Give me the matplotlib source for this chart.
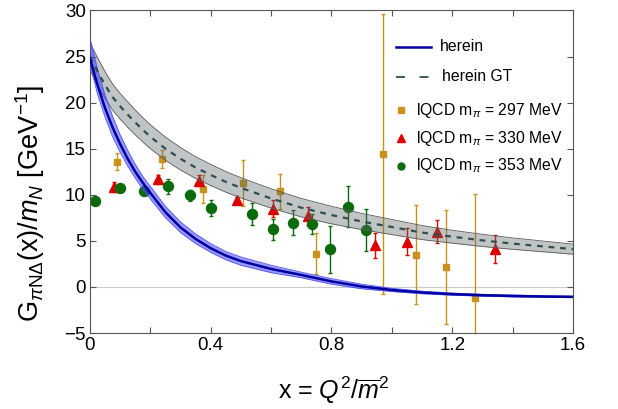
import numpy as np
import matplotlib
matplotlib.use("Agg")
import matplotlib.pyplot as plt

plt.rcParams['font.family'] = ['Liberation Sans', 'DejaVu Sans']
plt.rcParams['mathtext.fontset'] = 'custom'
plt.rcParams['mathtext.rm'] = 'Liberation Sans'
plt.rcParams['mathtext.it'] = 'Liberation Sans:italic'
plt.rcParams['mathtext.bf'] = 'Liberation Sans:bold'

# model curves, sampled on a common x grid
x_grid = [0, 0.025, 0.05, 0.075, 0.1, 0.125, 0.15, 0.175, 0.2, 0.25, 0.3, 0.35, 0.4,
          0.45, 0.5, 0.6, 0.7, 0.8, 0.9, 1.0, 1.1, 1.2, 1.3, 1.4, 1.5, 1.6]
herein = [24.8, 21.9, 19.4, 17.3, 15.5, 13.9, 12.5, 11.3, 10.2, 8.1, 6.45, 5.2, 4.2,
          3.4, 2.8, 1.95, 1.3, 0.6, 0.05, -0.33, -0.6, -0.78, -0.9, -0.98, -1.04, -1.08]
herein_hi = [27.0, 23.6, 20.8, 18.5, 16.5, 14.8, 13.3, 12.0, 10.9, 8.75, 7.05, 5.75, 4.7,
             3.85, 3.25, 2.35, 1.6, 0.9, 0.3, -0.15, -0.46, -0.66, -0.8, -0.88, -0.95, -1.0]
herein_lo = [24.2, 20.9, 18.4, 16.3, 14.6, 13.1, 11.8, 10.6, 9.55, 7.5, 5.9, 4.7, 3.75,
             2.95, 2.35, 1.55, 1.0, 0.3, -0.2, -0.5, -0.74, -0.9, -1.0, -1.08, -1.13, -1.16]
herein_gt = [25.0, 23.4, 21.9, 20.6, 19.6, 18.7, 17.85, 17.05, 16.3, 15.0, 13.9, 12.95, 12.15,
             11.4, 10.75, 9.6, 8.6, 7.8, 7.1, 6.5, 5.9, 5.45, 5.05, 4.7, 4.4, 4.1]
herein_gt_err = [1.5, 1.48, 1.45, 1.42, 1.4, 1.38, 1.35, 1.32, 1.3, 1.26, 1.22, 1.18, 1.15,
                 1.12, 1.1, 1.05, 1.0, 0.95, 0.88, 0.82, 0.76, 0.7, 0.66, 0.62, 0.58, 0.55]

# lattice QCD points
x_297 = [0.088, 0.239, 0.375, 0.506, 0.63, 0.749, 0.972, 1.08, 1.178, 1.275]
g_297 = [13.6, 13.9, 10.6, 11.3, 10.4, 3.6, 14.4, 3.5, 2.2, -1.15]
e_297 = [0.9, 1.0, 1.5, 2.5, 1.9, 2.2, 15.2, 5.4, 6.2, 11.2]

x_330 = [0.081, 0.224, 0.36, 0.487, 0.607, 0.723, 0.944, 1.049, 1.148, 1.341]
g_330 = [10.85, 11.7, 11.5, 9.4, 8.5, 7.7, 4.5, 4.9, 6.0, 4.15]
e_330 = [0.5, 0.5, 0.6, 0.4, 0.9, 1.0, 1.35, 1.45, 1.25, 1.5]

x_353 = [0.018, 0.1, 0.18, 0.257, 0.331, 0.402, 0.536, 0.607, 0.671, 0.734, 0.795, 0.856, 0.914]
g_353 = [9.3, 10.7, 10.45, 10.9, 9.95, 8.6, 7.95, 6.26, 6.95, 6.8, 4.1, 8.7, 6.15]
e_353 = [0.2, 0.3, 0.3, 0.8, 0.6, 0.85, 1.2, 1.15, 1.35, 1.1, 2.55, 2.2, 2.3]

GOLD = '#c8921c'
RED = '#dd0000'
GREEN = '#0b6b0b'
BLUE = '#00009e'
SLATE = '#2f4f4f'

fig = plt.figure(figsize=(6.18, 4.09), dpi=100)
ax = fig.add_axes([0.1456, 0.1858, 0.7816, 0.7886])

xg = np.array(x_grid)
gt = np.array(herein_gt)
gt_err = np.array(herein_gt_err)

ax.axhline(0, color='#cccccc', lw=0.8, zorder=0)

ebkw = dict(capsize=1.6, elinewidth=1.0, capthick=1.0, zorder=2)
ax.errorbar(x_297, g_297, yerr=e_297, fmt='s', color=GOLD, ms=5.0, **ebkw)
ax.errorbar(x_330, g_330, yerr=e_330, fmt='^', color=RED, ms=7.2, **ebkw)
ax.errorbar(x_353, g_353, yerr=e_353, fmt='o', color=GREEN, ms=7.2, **ebkw)

# uncertainty bands sit over the points
ax.fill_between(xg, gt - gt_err, gt + gt_err, color='#5a6666', alpha=0.38, lw=0, zorder=3)
ax.plot(xg, gt - gt_err, color='#5a5a5a', lw=0.6, zorder=3)
ax.plot(xg, gt + gt_err, color='#5a5a5a', lw=0.6, zorder=3)
ax.fill_between(xg, herein_lo, herein_hi, color='#3535ff', alpha=0.5, lw=0, zorder=3)
ax.plot(xg, herein_lo, color='#5050ff', lw=0.6, zorder=3)
ax.plot(xg, herein_hi, color='#5050ff', lw=0.6, zorder=3)

ax.plot(xg, gt, color=SLATE, lw=1.6, dashes=(2.6, 2.6), zorder=4)
ax.plot(xg, herein, color=BLUE, lw=1.8, zorder=4)

ax.set_xlim(0, 1.6)
ax.set_ylim(-5, 30)
ax.set_xticks(np.arange(0, 1.61, 0.2))
ax.set_xticklabels(['0', '', '0.4', '', '0.8', '', '1.2', '', '1.6'])
ax.set_yticks(np.arange(-5, 31, 5))
ax.tick_params(direction='in', length=4, width=0.8, color='#555555',
               top=True, right=True, labelsize=13.5, pad=3)
for sp in ax.spines.values():
    sp.set_color('#555555')
    sp.set_linewidth(0.8)

ax.set_ylabel(r'G$_{\pi\mathrm{N}\Delta}$(x)/$m_N$ [GeV$^{-1}$]', fontsize=19.5)
ax.yaxis.set_label_coords(-0.09, 0.40)
ax.set_xlabel(r'x = $Q^2/\overline{m}^2$', fontsize=18)
ax.xaxis.set_label_coords(0.505, -0.13)

# legend drawn by hand in axes coordinates
tr = ax.transAxes
ax.plot([0.634, 0.706], [0.887, 0.887], color=BLUE, lw=1.8, transform=tr)
ax.text(0.725, 0.887, 'herein', fontsize=11.3, va='center', transform=tr)
ax.plot([0.634, 0.706], [0.794, 0.794], color=SLATE, lw=1.3, dashes=(5, 8), transform=tr)
ax.text(0.728, 0.794, 'herein GT', fontsize=11.3, va='center', transform=tr)
legend_rows = [('s', GOLD, 4.5, 0.691, '297'),
               ('^', RED, 5.5, 0.604, '330'),
               ('o', GREEN, 5, 0.518, '353')]
for mk, col, ms, yy, mev in legend_rows:
    ax.plot([0.643], [yy], marker=mk, color=col, ms=ms, ls='none', transform=tr)
    ax.text(0.675, yy, r'lQCD m$_{\pi}$ = ' + mev + ' MeV', fontsize=11.3,
            va='center', transform=tr)

fig.savefig('out.png', dpi=100)
